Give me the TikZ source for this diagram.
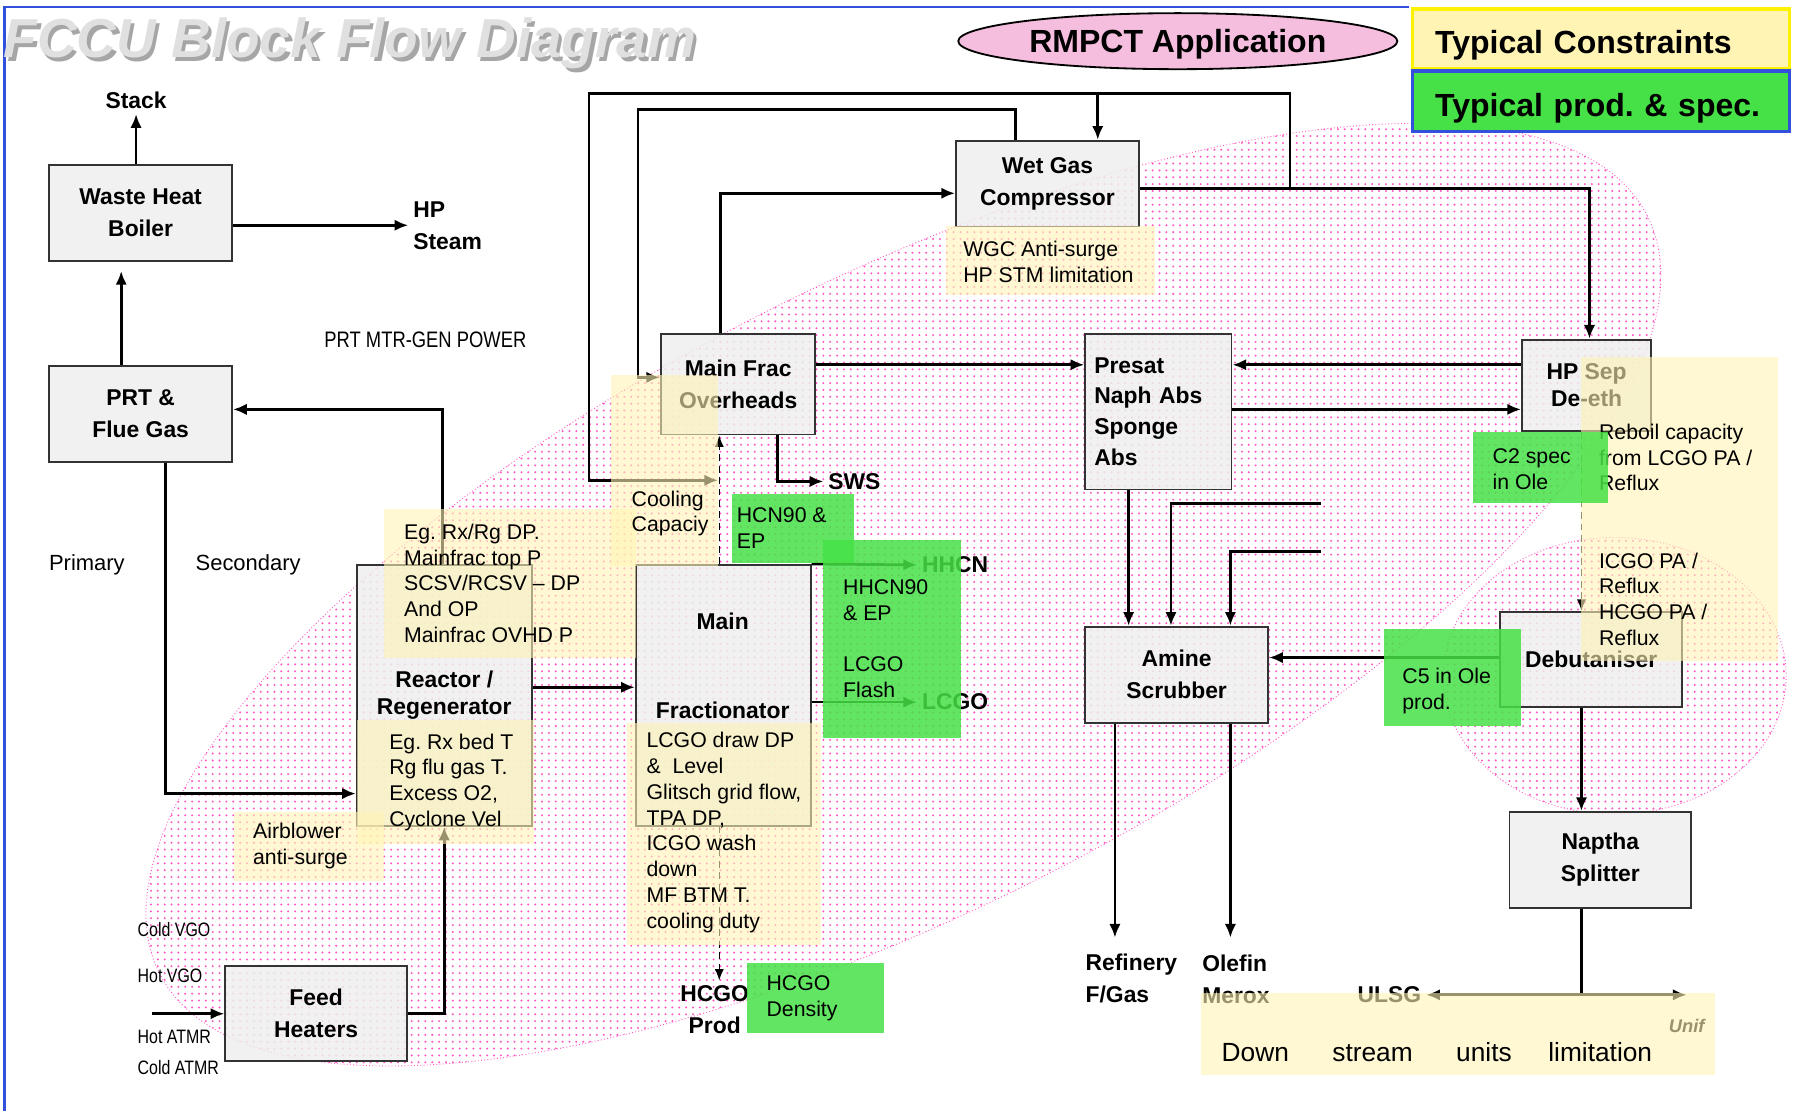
\documentclass[tikz,border=0pt]{standalone}
\usepackage{fontspec}
\setmainfont{Liberation Sans}
\newfontfamily\narrowfont[FakeStretch=0.82]{Liberation Sans}
\usetikzlibrary{arrows.meta,patterns}
\frenchspacing

\definecolor{framebl}{RGB}{50,80,220}
\definecolor{boxgray}{RGB}{238,238,238}
\definecolor{consyel}{RGB}{255,244,180}
\definecolor{specgrn}{RGB}{70,225,70}
\definecolor{dotpink}{RGB}{255,90,195}
\definecolor{rmpctpink}{RGB}{246,190,222}

\tikzset{
  unit/.style={draw=black!80, line width=0.8pt, fill=boxgray, fill opacity=0.85, text opacity=1,
    font=\fontsize{10}{14}\selectfont\bfseries, align=center, inner sep=0pt},
  lbl/.style={font=\fontsize{10}{14}\selectfont\bfseries, align=center, inner sep=2pt},
  plain/.style={font=\fontsize{9.6}{12}\selectfont, inner sep=0pt},
  feedlbl/.style={font=\narrowfont\fontsize{8.5}{10}\selectfont, anchor=west, inner sep=0pt},
  constext/.style={font=\fontsize{9.3}{11.25}\selectfont, anchor=west, align=left, inner sep=0pt},
  spectext/.style={constext},
  cons/.style={fill=consyel, fill opacity=0.6},
  spec/.style={fill=specgrn, fill opacity=0.85},
  pinkarea/.style={pattern=dots, pattern color=dotpink, draw=dotpink, densely dotted, line width=0.4pt},
  flow/.style={line width=1.2pt, -{Latex[length=6pt,width=5pt]}},
  thinflow/.style={line width=0.6pt, densely dashed, -{Latex[length=5pt,width=4pt]}},
  legend/.style={line width=1.5pt, minimum width=165pt, text width=145pt, align=left,
    text height=13pt, text depth=0pt, font=\fontsize{14}{16}\selectfont\bfseries, inner sep=0pt}
}

\begin{document}
\begin{tikzpicture}[x=0.5pt,y=-0.5pt]
\useasboundingbox (0,0) rectangle (1568,971);

% frame and title
\draw[framebl, line width=1pt] (1232,6) -- (4,6) -- (4,975);
\node[font=\fontsize{24}{28}\selectfont\bfseries\itshape, text=black!35] (titleshade) at (309,41) {FCCU Block Flow Diagram};
\node[font=\fontsize{24}{28}\selectfont\bfseries\itshape, text=black!12] (title) at (306,38) {FCCU Block Flow Diagram};

% RMPCT areas
\path[pinkarea, rotate around={27:(790,520)}] (790,520) ellipse [x radius=730, y radius=275];
\path[pinkarea] (1412,591) ellipse [x radius=150, y radius=121];

% legend
\draw[line width=0.8pt, fill=rmpctpink] (1030,36) ellipse [x radius=192, y radius=24.5];
\node[font=\fontsize{14}{16}\selectfont\bfseries] (rmpct) at (1030,39) {RMPCT Application};
\node[legend, draw=yellow, fill=consyel, minimum height=26pt] (legcons) at (1400,34) {Typical Constraints};
\node[legend, draw=framebl, fill=specgrn, minimum height=26.5pt] (legspec) at (1400,88.5) {Typical prod. \& spec.};

% units
\node[unit, minimum width=80pt, minimum height=42pt] (whb) at (123,186) {Waste Heat\\Boiler};
\node[unit, minimum width=80pt, minimum height=42pt] (prt) at (123,362) {PRT \&\\Flue Gas};
\node[unit, minimum width=80pt, minimum height=37.5pt] (wgc) at (916,160.5) {Wet Gas\\Compressor};
\node[unit, minimum width=67.5pt, minimum height=44pt] (mfo) at (645.5,336) {Main Frac\\Overheads};
\node[unit, minimum width=64pt, minimum height=68pt, text width=56pt, align=left,
  font=\fontsize{10}{13.5}\selectfont\bfseries] (presat) at (1013,360) {Presat\\Naph Abs\\Sponge\\Abs};
\node[unit, minimum width=56.5pt, minimum height=40pt, font=\fontsize{10}{12}\selectfont\bfseries] (hpsep) at (1387.5,337) {HP Sep\\De-eth};
\node[unit, minimum width=76.5pt, minimum height=114pt, font=\fontsize{10}{12}\selectfont\bfseries] (reactor) at (388.5,608) {Reactor /\\Regenerator};
\node[unit, minimum width=76.5pt, minimum height=114pt] (mainfrac) at (632.5,608) {};
\node[lbl, inner sep=0pt] (mainlbl) at (632,543) {Main};
\node[lbl, inner sep=0pt] (fraclbl) at (632,621) {Fractionator};
\node[unit, minimum width=80pt, minimum height=42pt] (amine) at (1029,590) {Amine\\Scrubber};
\node[unit, minimum width=79.5pt, minimum height=41.5pt] (debut) at (1391.5,576.5) {Debutaniser};
\node[unit, minimum width=79.5pt, minimum height=42pt] (naptha) at (1399.5,752) {Naptha\\Splitter};
\node[unit, minimum width=79.5pt, minimum height=41.5pt] (feed) at (276.5,886.5) {Feed\\Heaters};

% stream labels
\node[lbl] (stack) at (119,88) {Stack};
\node[lbl, anchor=west, align=left] (hpsteam) at (357,197) {HP\\Steam};
\node[font=\narrowfont\fontsize{9.8}{12}\selectfont, inner sep=0pt] (prtpow) at (372,297) {PRT MTR-GEN POWER};
\node[plain] (primary) at (76,494) {Primary};
\node[plain] (secondary) at (217,494) {Secondary};
\node[lbl, anchor=west] (sws) at (720,421) {SWS};
\node[lbl, anchor=west] (hhcn) at (802,494) {HHCN};
\node[lbl, anchor=west] (lcgo) at (802,614) {LCGO};
\node[lbl] (hcgo) at (625,883) {HCGO\\Prod};
\node[lbl, anchor=west, align=left] (refgas) at (945,856) {Refinery\\F/Gas};
\node[lbl, anchor=west, align=left] (olefin) at (1047,856) {Olefin\\Merox};
\node[lbl] (ulsg) at (1215,870) {ULSG};
\node[lbl, font=\fontsize{8}{10}\selectfont\bfseries\itshape] (unif) at (1475,897) {Unif};
\node[feedlbl] (coldvgo) at (120,813) {Cold VGO};
\node[feedlbl] (hotvgo) at (120,853) {Hot VGO};
\node[feedlbl] (hotatmr) at (120,907) {Hot ATMR};
\node[feedlbl] (coldatmr) at (120,934) {Cold ATMR};

% connectors
\coordinate (atmrin) at (133,886.5);
\coordinate (gastap) at (1128,165);
\coordinate (gasin1) at (1155,440);
\coordinate (gasin2) at (1155,482);
\coordinate (fgout) at (975,820);
\coordinate (oleout) at (1076,820);
\coordinate (napsplit) at (1383,870);
\coordinate (unifin) at (1475,870);

\draw[flow] (stack.south |- whb.north) -- (stack.south);
\draw[flow] (whb.east |- hpsteam.west) -- (hpsteam.west);
\draw[flow] (prt.north -| 106,0) -- (106,237);
\draw[flow] (prt.south -| 145,0) |- (reactor.west |- 0,694);
\draw[flow] (reactor.north -| 387,0) |- (prt.east |- 0,358);
\draw[flow] (feed.east) -| (reactor.south);
\draw[flow] (atmrin) -- (feed.west);
\draw[flow] (reactor.east |- 0,601) -- (mainfrac.west |- 0,601);
\draw[thinflow] (mainfrac.north -| 629,0) -- (mfo.south -| 629,0);
\draw[flow] (mfo.north -| 630,0) |- (wgc.west |- 0,169);
\draw[flow] (wgc.north -| 888,0) |- (558,96) |- (mfo.west |- 0,330);
\draw[flow] (wgc.east |- gastap) -| (hpsep.north -| 1390,0);
\draw[flow] (gastap) |- (515,82) |- (628,420);
\draw[flow] (960,82) -- (wgc.north -| 960,0);
\draw[flow] (mfo.east |- 0,319) -- (presat.west |- 0,319);
\draw[flow] (mfo.south -| 680,0) |- (sws.west);
\draw[flow] (hpsep.west |- 0,319) -- (presat.east |- 0,319);
\draw[flow] (presat.east |- 0,358) -- (hpsep.west |- 0,358);
\draw[flow] (presat.south -| 987,0) -- (amine.north -| 987,0);
\draw[flow] (gasin1) -| (amine.north -| 1024,0);
\draw[flow] (gasin2) -| (amine.north -| 1076,0);
\draw[flow] (debut.west |- 0,575) -- (amine.east |- 0,575);
\draw[thinflow] (hpsep.south -| 1383,0) -- (debut.north -| 1383,0);
\draw[flow] (debut.south -| 1383,0) -- (naptha.north -| 1383,0);
\draw[flow] (amine.south -| 975,0) -- (fgout);
\draw[flow] (amine.south -| 1076,0) -- (oleout);
\draw[line width=1.2pt] (naptha.south -| 1383,0) -- (napsplit);
\draw[flow] (napsplit) -- (ulsg.east);
\draw[flow] (napsplit) -- (unifin);
\draw[flow] (mainfrac.north east) -- (hhcn.west);
\draw[flow] (mainfrac.east |- lcgo.west) -- (lcgo.west);
\draw[thinflow] (mainfrac.south -| 629,0) -- (hcgo.north -| 629,0);

% typical constraints
\path[cons] (827,198) rectangle (1010,258);
\path[cons] (534,328) rectangle (628,495);
\path[cons] (336,445) rectangle (556,575);
\path[cons] (312,630) rectangle (467,738);
\path[cons] (205,710) rectangle (336,770);
\path[cons] (548,632) rectangle (718,826);
\path[cons] (1383,312) rectangle (1555,578);
\path[cons] (1050,868) rectangle (1500,940);
\node[constext] (twgc) at (842,229) {WGC Anti-surge\\HP STM limitation};
\node[constext] (tcool) at (552,449) {Cooling\\Capaciy};
\node[constext] (trr1) at (353,510) {Eg. Rx/Rg DP.\\Mainfrac top P\\SCSV/RCSV -- DP\\And OP\\Mainfrac OVHD P};
\node[constext] (trr2) at (340,684) {Eg. Rx bed T\\Rg flu gas T.\\Excess O2,\\Cyclone Vel};
\node[constext] (tair) at (221,740) {Airblower\\anti-surge};
\node[constext] (tmf) at (565,728) {LCGO draw DP\\\&\ \ Level\\Glitsch grid flow,\\TPA DP,\\ICGO wash\\down\\MF BTM T.\\cooling duty};
\node[constext] (treboil) at (1398,400) {Reboil capacity\\from LCGO PA /\\Reflux};
\node[constext] (tpa) at (1398,524) {ICGO PA /\\Reflux\\HCGO PA /\\Reflux};
\node[constext, font=\fontsize{11.5}{14}\selectfont] (tdown) at (1068,920) {Down\hspace{19pt}stream\hspace{19pt}units\hspace{16pt}limitation};

% typical products and specs
\path[spec] (640,432) rectangle (747,492);
\path[spec] (720,472) rectangle (840,645);
\path[spec] (1288,378) rectangle (1406,440);
\path[spec] (1210,550) rectangle (1330,635);
\path[spec] (653,842) rectangle (773,903);
\node[spectext] (thcn) at (644,462) {HCN90 \&\\EP};
\node[spectext] (thhcn) at (737,525) {HHCN90\\\& EP};
\node[spectext] (tflash) at (737,592) {LCGO\\Flash};
\node[spectext] (tc2) at (1305,410) {C2 spec\\in Ole};
\node[spectext] (tc5) at (1226,604) {C5 in Ole\\prod.};
\node[spectext] (thcgod) at (670,873) {HCGO\\Density};
\end{tikzpicture}
\end{document}
